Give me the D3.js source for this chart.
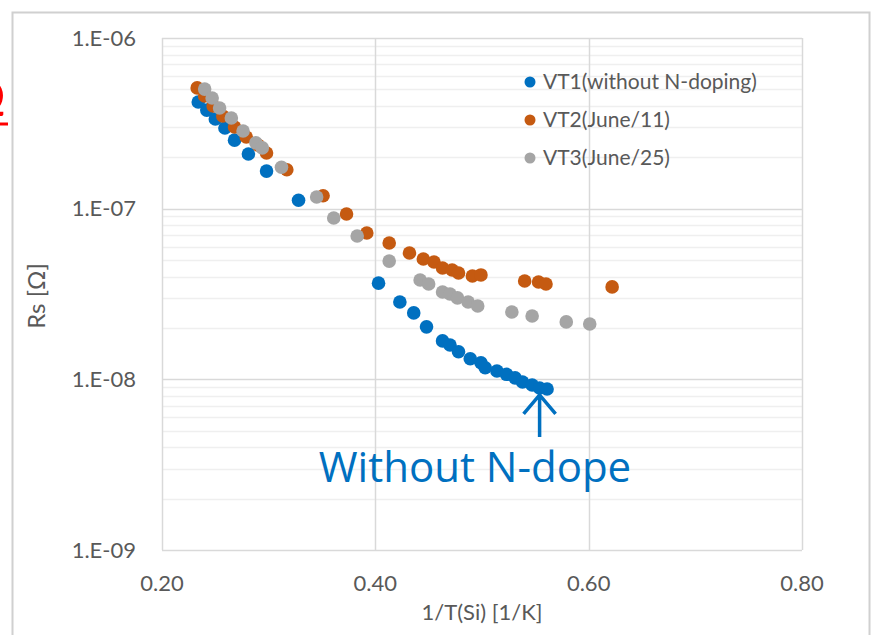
<!DOCTYPE html>
<html>
<head>
<meta charset="utf-8">
<script src="https://cdn.jsdelivr.net/npm/d3@7"></script>
<style>
  body { margin: 0; background: #fff; }
  svg { display: block; font-family: Lato, "Liberation Sans", sans-serif; }
</style>
</head>
<body>
<svg id="chart" width="872" height="635"></svg>
<script>
'use strict';

/* data: [1/T, Rs] */
var seriesNames = ['VT1(without N-doping)', 'VT2(June/11)', 'VT3(June/25)'];
var seriesColors = ['#0070C0', '#C55A11', '#A5A5A5'];

var vt1 = [
  [0.234, 4.22e-7], [0.242, 3.78e-7], [0.250, 3.35e-7], [0.259, 2.97e-7],
  [0.268, 2.52e-7], [0.281, 2.09e-7], [0.298, 1.66e-7], [0.328, 1.12e-7],
  [0.403, 3.66e-8], [0.423, 2.84e-8], [0.436, 2.45e-8], [0.448, 2.03e-8],
  [0.463, 1.68e-8], [0.470, 1.59e-8], [0.478, 1.45e-8], [0.489, 1.32e-8],
  [0.499, 1.25e-8], [0.503, 1.17e-8], [0.514, 1.12e-8], [0.523, 1.07e-8],
  [0.531, 1.02e-8], [0.538, 9.64e-9], [0.547, 9.27e-9], [0.554, 8.90e-9],
  [0.561, 8.77e-9]
];
var vt2 = [
  [0.233, 5.10e-7], [0.240, 4.57e-7], [0.248, 4.00e-7], [0.257, 3.49e-7],
  [0.268, 3.01e-7], [0.279, 2.63e-7], [0.290, 2.36e-7], [0.298, 2.12e-7],
  [0.317, 1.69e-7], [0.351, 1.19e-7], [0.373, 9.30e-8], [0.392, 7.20e-8],
  [0.413, 6.29e-8], [0.432, 5.50e-8], [0.445, 5.07e-8], [0.455, 4.87e-8],
  [0.463, 4.49e-8], [0.472, 4.37e-8], [0.478, 4.20e-8], [0.491, 4.03e-8],
  [0.499, 4.09e-8], [0.540, 3.77e-8], [0.553, 3.72e-8], [0.560, 3.62e-8],
  [0.622, 3.48e-8]
];
var vt3 = [
  [0.240, 5.02e-7], [0.247, 4.45e-7], [0.254, 3.89e-7], [0.265, 3.40e-7],
  [0.276, 2.85e-7], [0.288, 2.43e-7], [0.294, 2.27e-7], [0.312, 1.75e-7],
  [0.345, 1.17e-7], [0.361, 8.81e-8], [0.383, 6.91e-8], [0.413, 4.93e-8],
  [0.442, 3.82e-8], [0.450, 3.62e-8], [0.463, 3.25e-8], [0.470, 3.16e-8],
  [0.477, 3.00e-8], [0.487, 2.84e-8], [0.496, 2.69e-8], [0.528, 2.48e-8],
  [0.547, 2.35e-8], [0.579, 2.17e-8], [0.601, 2.11e-8]
];

var xTicks = [0.2, 0.4, 0.6, 0.8];
var yTicks = [1e-9, 1e-8, 1e-7, 1e-6];
var yTickLabels = ['1.E-09', '1.E-08', '1.E-07', '1.E-06'];

var svg = d3.select('#chart');
var textColor = '#595959';

var margin = { left: 162, top: 38, right: 802, bottom: 550 };
var x = d3.scaleLinear().domain([0.2, 0.8]).range([margin.left, margin.right]);
var y = d3.scaleLog().domain([1e-9, 1e-6]).range([margin.bottom, margin.top]);

/* outer frame */
svg.append('rect')
  .attr('x', 12.5).attr('y', 12.5)
  .attr('width', 857).attr('height', 640)
  .attr('fill', 'none').attr('stroke', '#d0d0d0').attr('stroke-width', 2);

/* clipped red glyph at left edge (cut off in the source slide too) */
svg.append('text')
  .attr('x', -36).attr('y', 116)
  .attr('fill', '#ff0000')
  .style('font-size', '52px')
  .text('Ω');
svg.append('line')
  .attr('x1', 0).attr('x2', 8).attr('y1', 124).attr('y2', 124)
  .attr('stroke', '#ff0000').attr('stroke-width', 3);

/* minor log grid */
var minor = [];
for (var e = -9; e < -6; e++) {
  for (var m = 2; m <= 9; m++) minor.push(m * Math.pow(10, e));
}
svg.append('g').selectAll('line').data(minor).enter().append('line')
  .attr('x1', margin.left).attr('x2', margin.right)
  .attr('y1', function (d) { return Math.round(y(d)) + 0.5; })
  .attr('y2', function (d) { return Math.round(y(d)) + 0.5; })
  .attr('stroke', '#efefef').attr('stroke-width', 1.5);

/* major grid */
svg.append('g').selectAll('line').data(yTicks).enter().append('line')
  .attr('x1', margin.left).attr('x2', margin.right)
  .attr('y1', function (d) { return Math.round(y(d)) + 0.5; })
  .attr('y2', function (d) { return Math.round(y(d)) + 0.5; })
  .attr('stroke', '#d9d9d9').attr('stroke-width', 1.5);
svg.append('g').selectAll('line').data(xTicks).enter().append('line')
  .attr('y1', margin.top).attr('y2', margin.bottom)
  .attr('x1', function (d) { return Math.round(x(d)) + 0.5; })
  .attr('x2', function (d) { return Math.round(x(d)) + 0.5; })
  .attr('stroke', '#d9d9d9').attr('stroke-width', 1.5);

/* axes labels */
svg.append('g').selectAll('text').data(yTicks).enter().append('text')
  .attr('x', 136)
  .attr('y', function (d) { return y(d); })
  .attr('dy', '0.35em')
  .attr('text-anchor', 'end')
  .attr('fill', textColor)
  .style('font-size', '22px')
  .text(function (d, i) { return yTickLabels[i]; });

svg.append('g').selectAll('text').data(xTicks).enter().append('text')
  .attr('x', function (d) { return x(d); })
  .attr('y', 591)
  .attr('text-anchor', 'middle')
  .attr('fill', textColor)
  .style('font-size', '22px')
  .text(function (d) { return d3.format('.2f')(d); });

svg.append('text')
  .attr('x', 482)
  .attr('y', 620)
  .attr('text-anchor', 'middle')
  .attr('fill', textColor)
  .style('font-size', '22px')
  .text('1/T(Si) [1/K]');

svg.append('text')
  .attr('transform', 'translate(45,296) rotate(-90)')
  .attr('text-anchor', 'middle')
  .attr('fill', textColor)
  .style('font-size', '24px')
  .text('Rs [Ω]');

/* points */
[vt1, vt2, vt3].forEach(function (pts, i) {
  svg.append('g').selectAll('circle').data(pts).enter().append('circle')
    .attr('cx', function (d) { return x(d[0]); })
    .attr('cy', function (d) { return y(d[1]); })
    .attr('r', 6.8)
    .attr('fill', seriesColors[i]);
});

/* legend */
var legend = svg.append('g').attr('transform', 'translate(530,82)');
seriesNames.forEach(function (name, i) {
  var row = legend.append('g').attr('transform', 'translate(0,' + (i * 38) + ')');
  row.append('circle').attr('r', 5.5).attr('fill', seriesColors[i]);
  row.append('text')
    .attr('x', 13).attr('dy', '0.35em')
    .attr('fill', textColor)
    .style('font-size', '21px')
    .text(name);
});

/* annotation arrow pointing at the end of VT1 */
var ax = x(0.554), ay = y(8.9e-9) + 7;
svg.append('path')
  .attr('d', 'M' + ax + ',' + (ay + 42) + 'V' + ay +
    'M' + (ax - 16) + ',' + (ay + 19) + 'L' + ax + ',' + ay + 'L' + (ax + 16) + ',' + (ay + 19))
  .attr('fill', 'none')
  .attr('stroke', '#0070C0')
  .attr('stroke-width', 3.5);

svg.append('text')
  .attr('x', 475).attr('y', 482)
  .attr('text-anchor', 'middle')
  .attr('fill', '#0070C0')
  .style('font-size', '42px')
  .style('font-family', '"Open Sans", Lato, sans-serif')
  .text('Without N-dope');
</script>
</body>
</html>
